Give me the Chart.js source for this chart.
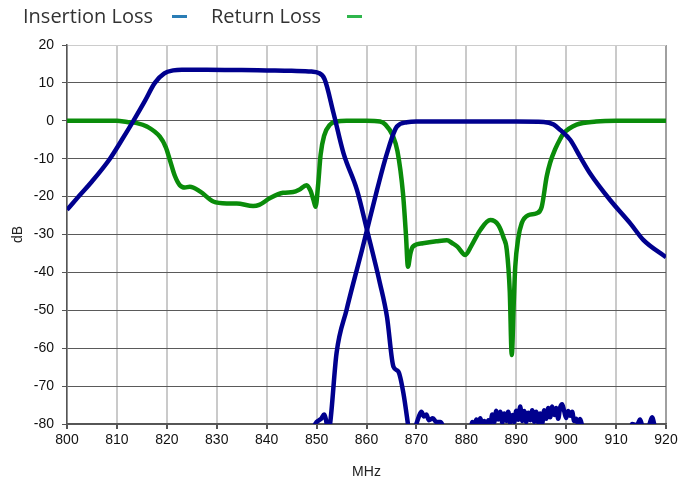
<!DOCTYPE html>
<html>
<head>
<meta charset="utf-8">
<script src="https://cdn.jsdelivr.net/npm/chart.js@4.4.1/dist/chart.umd.min.js"></script>
<style>
  body { margin: 0; background: #fff; }
  #wrap { position: relative; width: 681px; height: 482px; }
  .lg { position: absolute; top: 2px; font-family: "Open Sans", sans-serif; font-size: 20px; color: #333; white-space: nowrap; }
  .dash { position: absolute; top: 15px; width: 15px; height: 3px; }
</style>
</head>
<body>
<div id="wrap">
  <canvas id="chart-canvas" width="681" height="482"></canvas>
  <span class="lg" style="left:23px">Insertion Loss</span>
  <span class="dash" style="left:172px;background:#2a7db5"></span>
  <span class="lg" style="left:211px">Return Loss</span>
  <span class="dash" style="left:347px;background:#2fb64c"></span>
</div>
<script>
//////////////////////////////////////////////////
/////       Data    ////////////
//////////////////////////////////////////////////

// insertion loss, low band filter (incl. noise floor after the skirt)
var ilLowMHz = [800, 802.3, 805, 808.6, 811, 813.3, 815.5, 817.6, 819.5, 821.3, 823, 828, 835, 840, 845, 849, 850.3, 851.6,
    853.4, 855.4, 858.1, 860.1, 862.7, 864.1, 865.4, 866.4, 867.4, 868.3, 868.8,
    870, 870.5, 871, 871.5, 872, 872.5, 873.3, 874, 874.8, 875.4, 876,
    880.5, 881.2, 881.6, 882, 882.4, 882.8, 883.2, 883.6, 884, 884.4, 884.8, 885.2, 885.6, 886, 886.4, 886.8,
    887.2, 887.6, 888, 888.4, 888.8, 889.2, 889.6, 890, 890.4, 890.8, 891.2, 891.6, 892, 892.4, 892.8,
    893.2, 893.6, 894, 894.4, 894.8, 895.2, 895.6, 896, 896.4, 896.8, 897.2, 897.6, 898, 898.4, 898.8,
    899.2, 899.6, 900, 900.4, 900.8, 901.2, 901.6, 902, 902.4, 902.8, 903.2, 904,
    912.5, 913.2, 914.2, 914.8, 915.3, 916.5, 917.2, 917.7, 918.3, 920];
var ilLowDb = [-23.5, -20, -16, -10, -5, 0, 5, 10, 12.5, 13.3, 13.5, 13.5, 13.4, 13.3, 13.2, 13, 12.7, 11,
    2, -8.6, -18.3, -28.8, -42.9, -51.7, -64.9, -66.2, -71.9, -80, -85,
    -80, -78, -76.8, -78, -77.5, -79, -78.5, -79.5, -79.5, -81, -85,
    -85, -79.5, -80.5, -78.8, -79.8, -78.5, -80.2, -79.2, -80.5, -79, -80, -77.5, -79.5, -76.5, -78.8, -76.8,
    -79.6, -77.2, -79.2, -76.8, -79.8, -77.6, -79.5, -76.5, -78.9, -75.4, -79.2, -76.6, -79.5, -77, -79,
    -76.4, -79.4, -76.8, -79.6, -77.2, -79.8, -76.4, -78.6, -75.8, -78.2, -75.4, -77.6, -75.8, -78.6, -75.6,
    -74.8, -76.6, -78.4, -76.6, -77.8, -76.8, -79.2, -78.6, -80, -78.7, -80.5, -85,
    -85, -80, -80.3, -78.8, -80.5, -80.5, -78.2, -80.5, -85, -85];

// insertion loss, high band filter
var ilHighMHz = [845, 849.5, 850, 850.5, 851, 851.5, 851.9, 852.3, 852.7, 854, 856, 857.7, 859.1, 860.1, 862.1, 864.1,
    866.1, 868.1, 870, 880, 890, 895.5, 897.5, 898.8, 900.8, 902.8, 904.8, 908.8, 912.8, 915.5, 920];
var ilHighDb = [-85, -80.5, -79.5, -79, -78.5, -77.5, -79, -82, -80, -61.3, -49.9, -41.1, -34.1, -28.8, -18.3, -8.6,
    -1.5, -0.4, -0.2, -0.2, -0.2, -0.3, -1, -2.4, -5, -9.5, -13.9, -20.9, -27, -31.5, -36];

// return loss
var rlMHz = [800, 810, 812, 814, 816, 818.6, 819.8, 820.6, 821.6, 822.6, 823.6, 824.6, 826.7, 829.3, 832, 834, 837.3,
    838.5, 840.7, 843.3, 845.3, 846.5, 848, 848.8, 849.4, 849.8, 850.3, 850.8, 851.5, 852.7, 854, 856, 860, 862.7,
    863.8, 865.3, 866.2, 867.3, 867.9, 868.3, 868.8, 869.3, 871.3, 874, 876.1, 877.2, 878.2, 879.8, 881, 882.8,
    884.8, 886.4, 887.5, 888.1, 888.7, 889.1, 889.5, 889.8, 890.4, 891.1, 892.4, 894.1, 895.1, 896.1, 896.8, 897.8,
    898.8, 899.5, 902.1, 906, 910, 920];
var rlDb = [0, 0, -0.3, -0.6, -1.5, -4.2, -7, -10.3, -14.5, -17, -17.6, -17.4, -18.7, -21.3, -21.8, -21.8, -22.5,
    -22.2, -20.4, -19, -18.8, -18.2, -17, -18.5, -21, -22.7, -17, -9, -4, -1, -0.2, 0, 0, -0.2,
    -1, -4, -8, -19, -30, -38.5, -35, -33.2, -32.3, -31.8, -31.5, -32.3, -33.2, -35.4, -33, -28.8,
    -26.2, -27.5, -31, -34, -45, -61.8, -48, -38.5, -31, -27, -24.9, -24.4, -22.7, -14.7, -11, -7.5,
    -4.8, -3.3, -1, -0.2, 0, 0];

var xTicks = [800, 810, 820, 830, 840, 850, 860, 870, 880, 890, 900, 910, 920];
var yTicks = [-80, -70, -60, -50, -40, -30, -20, -10, 0, 10, 20];

function pts(xs, ys) {
    return xs.map(function (x, i) { return { x: x, y: ys[i] }; });
}

//////////////////////////////////////////////////
/////       For Loading chart.js    //////////////
//////////////////////////////////////////////////

var tickFont = { family: "'Liberation Sans', Arial, sans-serif", size: 14 };

var ctx = document.getElementById('chart-canvas').getContext('2d');
var myChart = new Chart(ctx, {
    type: 'line',
    data: {
        datasets: [
            {
                label: "Insertion Loss",
                borderColor: "#00008e",
                borderWidth: 4.5,
                data: pts(ilLowMHz, ilLowDb),
            },
            {
                label: "Insertion Loss (high)",
                borderColor: "#00008e",
                borderWidth: 4.5,
                data: pts(ilHighMHz, ilHighDb),
            },
            {
                label: "Return Loss",
                borderColor: "#0a8c0a",
                borderWidth: 4.5,
                data: pts(rlMHz, rlDb),
            }
        ]
    },
    options: {
        responsive: false,
        animation: false,
        devicePixelRatio: 1,
        clip: 0,
        elements: {
            point: { radius: 0 },
            line: { cubicInterpolationMode: 'monotone', fill: false }
        },
        layout: { padding: { top: 45, right: 15, left: 0, bottom: 0 } },
        plugins: { legend: { display: false }, tooltip: { enabled: false } },
        scales: {
            x: {
                type: 'linear',
                min: 800,
                max: 920,
                afterBuildTicks: function (s) { s.ticks = xTicks.map(function (v) { return { value: v }; }); },
                afterFit: function (s) { s.height = 58; },
                ticks: { font: tickFont, color: '#111', padding: 3, maxRotation: 0 },
                grid: {
                    color: function (c) { return c.tick && c.tick.value === 920 ? '#a0a0a0' : '#cacaca'; },
                    lineWidth: 2,
                    tickColor: '#555',
                    tickLength: 5
                },
                border: { color: '#555', width: 1.5 },
                title: { display: true, text: 'MHz', font: tickFont, color: '#222', padding: { top: 4, bottom: 1 } }
            },
            y: {
                min: -80,
                max: 20,
                afterBuildTicks: function (s) { s.ticks = yTicks.map(function (v) { return { value: v }; }); },
                afterFit: function (s) { s.width = 67; },
                ticks: { font: tickFont, color: '#111', padding: 8 },
                grid: {
                    color: function (c) { return c.tick && c.tick.value === 20 ? '#cccccc' : '#5a5a5a'; },
                    lineWidth: 1,
                    tickColor: '#555',
                    tickLength: 5
                },
                border: { color: '#555', width: 1.5 },
                title: { display: true, text: 'dB', font: tickFont, color: '#222', padding: { top: 10, bottom: 0 } }
            }
        }
    }
});
</script>
</body>
</html>
